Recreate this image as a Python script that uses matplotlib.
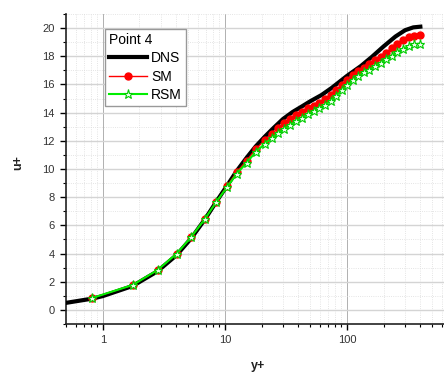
import matplotlib
matplotlib.use('Agg')
import matplotlib.pyplot as plt
from matplotlib.ticker import LogLocator, MultipleLocator, NullFormatter, FuncFormatter

plt.rcParams['font.family'] = ['Liberation Sans', 'DejaVu Sans']

# DNS profile (continuous line)
dns_yplus = [0.5, 0.82, 1.0, 1.76, 2.82, 4.04, 5.33, 6.9, 8.55, 10.5, 12.5, 15.1,
             17.9, 21.3, 25.0, 30.0, 36.0, 43.0, 50.0, 62.0, 75.0, 100.0, 130.0,
             160.0, 200.0, 250.0, 300.0, 350.0, 400.0]
dns_uplus = [0.5, 0.8, 0.98, 1.7, 2.75, 3.9, 5.1, 6.45, 7.7, 8.85, 9.85, 10.8,
             11.6, 12.3, 12.9, 13.55, 14.05, 14.45, 14.8, 15.25, 15.75, 16.6, 17.3,
             17.95, 18.7, 19.4, 19.85, 20.05, 20.1]

# cell-centre y+ of the model solutions
model_yplus = [0.82, 1.76, 2.82, 4.04, 5.33, 6.9, 8.55, 10.5, 12.5, 15.1, 17.9,
               21.3, 24.2, 27.3, 30.7, 34.4, 38.5, 43.0, 48.0, 53.5, 59.6, 66.3,
               73.7, 81.9, 90.9, 101.0, 112.0, 124.0, 138.0, 153.0, 170.0, 189.0,
               210.0, 233.0, 259.0, 288.0, 320.0, 356.0, 395.0]
sm_uplus = [0.85, 1.77, 2.84, 4.0, 5.2, 6.48, 7.68, 8.8, 9.77, 10.6, 11.4,
            12.06, 12.5, 12.9, 13.25, 13.55, 13.8, 14.05, 14.3, 14.5, 14.7, 14.95,
            15.25, 15.6, 15.95, 16.3, 16.65, 16.95, 17.2, 17.45, 17.7, 17.95,
            18.25, 18.6, 18.9, 19.15, 19.35, 19.45, 19.5]
rsm_uplus = [0.85, 1.77, 2.84, 4.0, 5.2, 6.48, 7.68, 8.75, 9.65, 10.45, 11.2,
             11.8, 12.2, 12.55, 12.85, 13.15, 13.4, 13.65, 13.9, 14.1, 14.3, 14.55,
             14.85, 15.2, 15.6, 15.95, 16.3, 16.6, 16.85, 17.05, 17.3, 17.55,
             17.8, 18.05, 18.3, 18.55, 18.7, 18.85, 18.9]

fig = plt.figure(figsize=(4.44, 3.73), dpi=100)
ax = fig.add_axes([66 / 444, 49 / 373, 384 / 444, 310 / 373])

ax.plot(dns_yplus, dns_uplus, color='black', lw=3, label='DNS', zorder=3)
ax.plot(model_yplus, sm_uplus, color='red', lw=1, marker='o', ms=5,
        mfc='red', mec='red', label='SM', zorder=4)
ax.plot(model_yplus, rsm_uplus, color='#00ee00', lw=1.5, marker='*', ms=6.5,
        mfc='#eaffea', mec='#00cc00', mew=0.8, label='RSM', zorder=5)

ax.set_xscale('log')
ax.set_xlim(0.5, 700)
ax.set_ylim(-1, 21)

ax.xaxis.set_major_locator(LogLocator(base=10, numticks=10))
ax.xaxis.set_minor_locator(LogLocator(base=10, subs=range(2, 10), numticks=20))
ax.xaxis.set_major_formatter(FuncFormatter(lambda v, p: '%g' % v))
ax.xaxis.set_minor_formatter(NullFormatter())
ax.yaxis.set_major_locator(MultipleLocator(2))
ax.yaxis.set_minor_locator(MultipleLocator(1))

ax.grid(which='major', axis='y', color='#d4d4d4', lw=1.0)
ax.grid(which='major', axis='x', color='#b0b0b0', lw=0.7)
ax.grid(which='minor', color='#dcdcdc', lw=0.6, ls=':')
ax.set_axisbelow(True)

for side in ('top', 'right'):
    ax.spines[side].set_visible(False)
for side in ('left', 'bottom'):
    ax.spines[side].set_linewidth(1.2)
    ax.spines[side].set_color('#222222')

ax.tick_params(which='major', direction='out', length=4, width=1, labelsize=8,
               labelcolor='#333333', pad=4)
ax.tick_params(which='minor', direction='out', length=2.5, width=0.8)

ax.set_xlabel('y+', fontsize=9, fontweight='bold', color='#222222')
ax.set_ylabel('u+', fontsize=9, fontweight='bold', color='#222222')
ax.xaxis.set_label_coords(0.5, -0.115)
ax.yaxis.set_label_coords(-0.11, 0.52)

leg = ax.legend(title='Point 4', loc='upper left', bbox_to_anchor=(0.1016, 0.9516),
                borderaxespad=0, fontsize=10, title_fontsize=10, fancybox=False,
                framealpha=1, edgecolor='#999999', handlelength=2.7,
                handletextpad=0.3, labelspacing=0.3, borderpad=0.3,
                alignment='left')
leg.get_frame().set_linewidth(1.0)

fig.savefig('out.png', dpi=100)
